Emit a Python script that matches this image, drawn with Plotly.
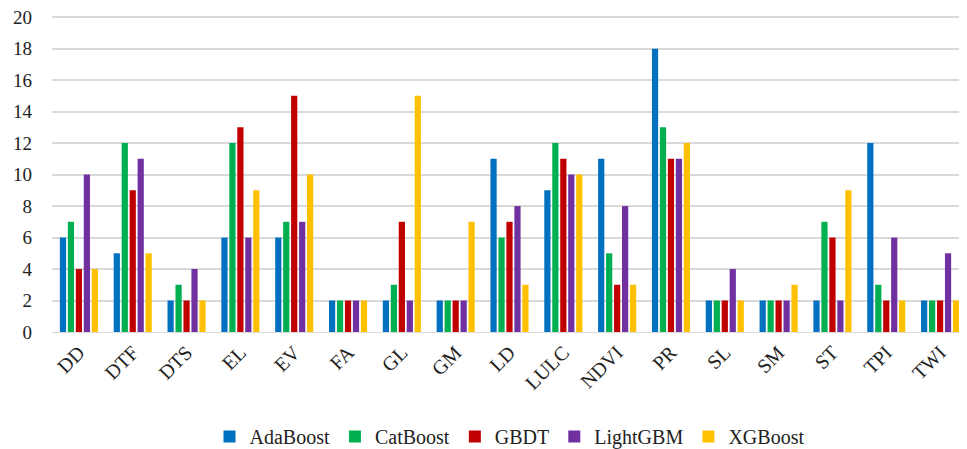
import plotly.graph_objects as go

categories = ["DD", "DTF", "DTS", "EL", "EV", "FA", "GL", "GM", "LD", "LULC",
              "NDVI", "PR", "SL", "SM", "ST", "TPI", "TWI"]
adaboost = [6, 5, 2, 6, 6, 2, 2, 2, 11, 9, 11, 18, 2, 2, 2, 12, 2]
catboost = [7, 12, 3, 12, 7, 2, 3, 2, 6, 12, 5, 13, 2, 2, 7, 3, 2]
gbdt = [4, 9, 2, 13, 15, 2, 7, 2, 7, 11, 3, 11, 2, 2, 6, 2, 2]
lightgbm = [10, 11, 4, 6, 7, 2, 2, 2, 8, 10, 8, 11, 4, 2, 2, 6, 5]
xgboost = [4, 5, 2, 9, 10, 2, 15, 7, 3, 10, 3, 12, 2, 3, 9, 2, 2]
y_ticks = [0, 2, 4, 6, 8, 10, 12, 14, 16, 18, 20]

series = [
    ("AdaBoost", adaboost, "#0070C0"),
    ("CatBoost", catboost, "#00B050"),
    ("GBDT", gbdt, "#C00000"),
    ("LightGBM", lightgbm, "#7030A0"),
    ("XGBoost", xgboost, "#FFC000"),
]

fig = go.Figure()
for name, vals, color in series:
    fig.add_trace(go.Bar(x=categories, y=vals, name=name, marker_color=color,
                         marker_line_width=0))

font = "Liberation Serif, Times New Roman, serif"
fig.update_layout(
    width=959, height=441,
    margin=dict(l=44, r=0, t=6, b=117),
    plot_bgcolor="white", paper_bgcolor="white",
    barmode="group", bargap=0.26, bargroupgap=0.22,
    font=dict(family=font, color="#222", size=20),
    legend=dict(orientation="h", x=0.5, xanchor="center", yref="container",
                y=0.0726, yanchor="top",
                font=dict(size=20), itemwidth=30, traceorder="normal"),
    xaxis=dict(tickangle=-45, showgrid=False, showline=True, linecolor="#d9d9d9",
               tickfont=dict(size=20), ticks="", automargin=False),
    yaxis=dict(range=[0, 20.2], tickvals=y_ticks, showgrid=True, gridcolor="#d9d9d9",
               gridwidth=1.5, zeroline=False, tickfont=dict(size=19), ticks="",
               ticklabelstandoff=19, automargin=False, ticklabeloverflow="allow"),
)
fig.write_html("out.html")
